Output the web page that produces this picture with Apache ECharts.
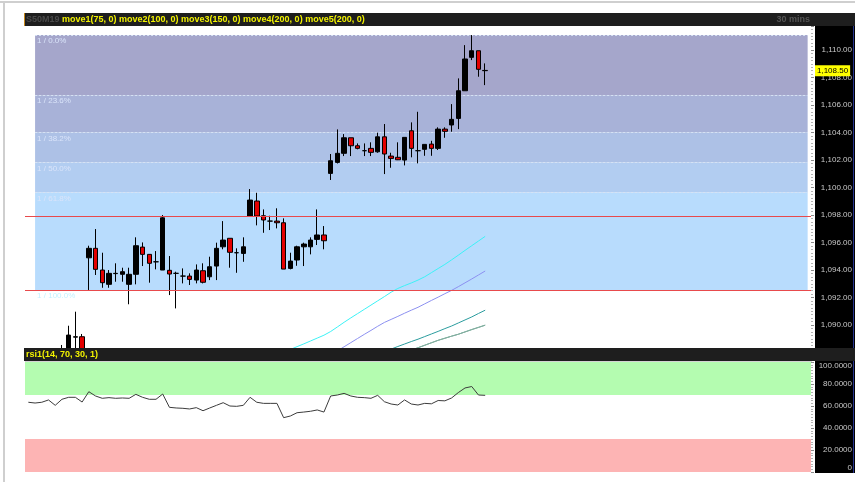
<!DOCTYPE html>
<html>
<head>
<meta charset="utf-8">
<title>S50M19 30 mins</title>
<script src="https://cdn.jsdelivr.net/npm/echarts@6.0.0/dist/echarts.min.js"></script>
<style>
    html, body { margin: 0; padding: 0; background: #fff; }
    #chart { width: 855px; height: 482px; }
</style>
</head>
<body>
<div id="chart"></div>
<script>
// bar slots on the time axis (data only fills the first 69)
const categories = Array.from({ length: 117 }, (_, i) => String(i + 1));

// [open, close, low, high], first bar is slot 5 (slots 0-4 are below the visible range)
const candleStart = 5;
const candles = [
    [1087.6, 1088.1, 1087.5, 1088.55], [1087.9, 1089.27, 1087.6, 1089.95], [1089.12, 1089.15, 1088.0, 1090.97],
    [1089.15, 1088.0, 1087.8, 1089.35], [1094.89, 1095.58, 1092.55, 1095.77], [1095.58, 1094.05, 1093.64, 1096.98],
    [1094.0, 1093.08, 1092.71, 1095.26], [1092.96, 1093.76, 1092.71, 1094.0], [1093.74, 1093.76, 1093.15, 1094.49],
    [1093.69, 1093.88, 1093.15, 1094.17], [1092.96, 1093.69, 1091.51, 1094.17], [1093.69, 1095.77, 1092.96, 1096.38],
    [1095.67, 1095.14, 1094.29, 1096.01], [1095.14, 1094.49, 1093.08, 1095.16], [1094.6, 1094.6, 1094.05, 1095.38],
    [1094.0, 1097.8, 1094.0, 1098.0], [1093.98, 1093.71, 1092.18, 1095.02], [1093.76, 1093.76, 1091.21, 1093.88],
    [1093.56, 1093.56, 1093.03, 1094.12], [1093.56, 1093.32, 1092.91, 1093.76], [1093.27, 1094.0, 1093.03, 1094.41],
    [1093.95, 1093.11, 1093.03, 1094.49], [1093.51, 1094.24, 1093.27, 1094.97], [1094.29, 1095.58, 1093.27, 1095.99],
    [1095.69, 1096.18, 1095.51, 1097.56], [1096.31, 1095.29, 1094.17, 1096.31], [1095.26, 1095.26, 1093.8, 1095.58],
    [1095.21, 1095.69, 1094.6, 1096.38], [1097.93, 1099.09, 1097.93, 1099.89], [1099.02, 1097.93, 1097.25, 1099.62],
    [1097.95, 1097.64, 1096.71, 1098.41], [1097.56, 1097.56, 1096.91, 1097.95], [1097.56, 1097.44, 1097.03, 1098.49],
    [1097.44, 1094.07, 1094.07, 1097.76], [1094.12, 1094.65, 1094.05, 1095.26], [1094.73, 1095.69, 1094.31, 1095.77],
    [1095.69, 1095.89, 1094.29, 1095.99], [1095.69, 1096.18, 1095.14, 1096.38], [1096.23, 1096.55, 1095.82, 1098.41],
    [1096.55, 1096.13, 1095.51, 1097.2], [1101.03, 1101.95, 1100.55, 1102.44], [1101.83, 1102.49, 1101.75, 1104.23],
    [1102.49, 1103.62, 1102.29, 1103.89], [1103.62, 1103.04, 1102.29, 1103.62], [1103.04, 1102.85, 1102.78, 1103.21],
    [1102.68, 1102.68, 1102.29, 1103.21], [1102.85, 1102.56, 1102.29, 1103.29], [1102.6, 1103.69, 1102.53, 1103.99],
    [1103.69, 1102.44, 1100.98, 1104.62], [1102.29, 1102.12, 1101.44, 1102.53], [1102.2, 1102.02, 1102.0, 1103.29],
    [1102.0, 1103.65, 1101.61, 1103.65], [1104.13, 1102.85, 1102.2, 1104.74], [1102.68, 1102.68, 1101.76, 1105.51],
    [1102.78, 1103.14, 1102.31, 1103.14], [1103.16, 1102.85, 1102.31, 1103.4], [1102.85, 1104.25, 1102.73, 1104.38],
    [1104.25, 1104.09, 1103.62, 1104.38], [1104.55, 1104.96, 1104.06, 1106.07], [1105.03, 1107.04, 1104.25, 1107.94],
    [1107.04, 1109.35, 1107.04, 1110.36], [1109.47, 1109.95, 1109.27, 1111.09], [1109.95, 1108.6, 1108.06, 1109.95],
    [1108.52, 1108.5, 1107.45, 1109.03]
];

// moving averages (only the part above the bottom of the pane is readable)
const move1Start = 38;
const move1 = [1088.01, 1088.22, 1088.43, 1088.63, 1088.84, 1089.05, 1089.26, 1089.53, 1089.86, 1090.20,
    1090.52, 1090.83, 1091.14, 1091.45, 1091.76, 1092.07, 1092.39, 1092.66, 1092.87, 1093.06,
    1093.27, 1093.51, 1093.81, 1094.11, 1094.41, 1094.74, 1095.08, 1095.43, 1095.77, 1096.11, 1096.45];
const move2Start = 46;
const move2 = [1088.12, 1088.42, 1088.72, 1089.02, 1089.32, 1089.61, 1089.91, 1090.19, 1090.41, 1090.63,
    1090.86, 1091.08, 1091.29, 1091.54, 1091.79, 1092.03, 1092.28, 1092.52, 1092.79, 1093.07,
    1093.35, 1093.64, 1093.93];
const move3Start = 53;
const move3 = [1088.07, 1088.25, 1088.44, 1088.62, 1088.80, 1088.97, 1089.16, 1089.35, 1089.54, 1089.74,
    1089.93, 1090.15, 1090.37, 1090.59, 1090.84, 1091.08];
const move4Start = 57;
const move4 = [1088.17, 1088.35, 1088.53, 1088.71, 1088.89, 1089.04, 1089.19, 1089.33, 1089.50, 1089.67,
    1089.83, 1089.99];
// move5 has the same period (200) as move4
const move5Start = 57;
const move5 = [1088.17, 1088.35, 1088.53, 1088.71, 1088.89, 1089.04, 1089.19, 1089.33, 1089.50, 1089.67,
    1089.83, 1089.99];

// rsi1(14, 70, 30, 1), one value per bar from slot 0
const rsi1 = [63.4, 62.7, 63.4, 65.5, 60.6, 66.1, 67.9, 67.9, 63.6, 73.0,
    69.1, 67.0, 67.6, 67.0, 67.3, 67.0, 70.6, 67.9, 66.1, 66.1,
    70.9, 58.8, 58.2, 57.9, 57.3, 58.5, 55.7, 58.2, 60.6, 63.0,
    60.0, 59.7, 60.6, 67.9, 63.4, 62.4, 62.4, 62.4, 49.4, 50.9,
    53.9, 54.5, 55.2, 56.4, 54.5, 69.1, 70.0, 71.5, 69.1, 67.9,
    67.6, 67.0, 69.7, 63.9, 61.8, 60.9, 65.5, 61.8, 60.9, 62.4,
    62.0, 65.0, 64.7, 67.3, 72.2, 76.4, 77.7, 70.0, 69.7];

// fibonacci retracement drawing
const fibHigh = 1111.09;
const fibLow = 1092.55;
const fibPct = [0, 23.6, 38.2, 50.0, 61.8, 100.0];
const fibColors = ['#a5a6cb', '#a8b2d8', '#adc1e6', '#b2cdf1', '#b8dcfd'];

// horizontal red lines
const redLines = [1097.93, 1092.55];

// rsi zones
const rsiHigh = 70;
const rsiLow = 30;

const FONT = '"Liberation Sans", Arial, sans-serif';

const pad = (start, vals, empty) => Array(start).fill(empty).concat(vals);

const fmtPrice = (v) => {
    const parts = v.toFixed(2).split('.');
    return parts[0].replace(/\B(?=(\d{3})+(?!\d))/g, ',') + '.' + parts[1];
};

const fibLevel = (p) => fibHigh - (fibHigh - fibLow) * p / 100;

const fibBands = fibColors.map((c, i) => [
    { xAxis: 1, yAxis: fibLevel(fibPct[i]), itemStyle: { color: c } },
    { xAxis: 116, yAxis: fibLevel(fibPct[i + 1]) }
]);

const fibLines = fibPct.map(p => [
    {
        xAxis: 1, yAxis: fibLevel(p),
        label: { formatter: '1 / ' + p.toFixed(1) + '%', color: p === 100 ? '#c4f1ff' : '#dae4fa' }
    },
    { xAxis: 116, yAxis: fibLevel(p) }
]);

const lastClose = candles[candles.length - 1][1];

const chart = echarts.init(document.getElementById('chart'));

const maSeries = (name, start, vals, color, extra) => Object.assign({
    name: name,
    type: 'line',
    xAxisIndex: 0,
    yAxisIndex: 0,
    z: 2,
    silent: true,
    symbol: 'none',
    data: pad(start, vals, '-'),
    lineStyle: { color: color, width: 1 }
}, extra || {});

const option = {
    animation: false,
    backgroundColor: '#ffffff',
    textStyle: { fontFamily: FONT },
    grid: [
        { left: 25, right: 43, top: 26, height: 322 },
        { left: 25, right: 43, top: 362, height: 110 }
    ],
    xAxis: [
        { type: 'category', gridIndex: 0, data: categories, show: false },
        { type: 'category', gridIndex: 1, data: categories, show: false }
    ],
    yAxis: [
        {
            type: 'value',
            gridIndex: 0,
            position: 'right',
            min: 1088.33,
            max: 1111.75,
            minInterval: 2,
            maxInterval: 2,
            splitLine: { show: false },
            axisLine: { show: false },
            axisTick: { show: true, length: 3, lineStyle: { color: '#8c8c8c' } },
            minorTick: { show: true, splitNumber: 8, length: 2, lineStyle: { color: '#b4b4b4' } },
            axisLabel: {
                align: 'right',
                margin: 41,
                color: '#c8c8c8',
                fontSize: 8,
                fontFamily: FONT,
                formatter: (v) => Math.abs(v / 2 - Math.round(v / 2)) > 0.001 ? '' : fmtPrice(v)
            }
        },
        {
            type: 'value',
            gridIndex: 1,
            position: 'right',
            min: 0,
            max: 100,
            interval: 20,
            splitLine: { show: false },
            axisLine: { show: false },
            axisTick: { show: true, length: 3, lineStyle: { color: '#8c8c8c' } },
            minorTick: { show: true, splitNumber: 8, length: 2, lineStyle: { color: '#b4b4b4' } },
            axisLabel: {
                align: 'right',
                margin: 41,
                color: '#c8c8c8',
                fontSize: 8,
                fontFamily: FONT,
                verticalAlignMaxLabel: 'top',
                verticalAlignMinLabel: 'bottom',
                formatter: (v) => v === 0 ? '0' : v.toFixed(4)
            }
        }
    ],
    graphic: [
        { type: 'rect', z: -1, shape: { x: 0, y: 1, width: 855, height: 2 }, style: { fill: '#cfcfcf' } },
        { type: 'rect', z: -1, shape: { x: 3, y: 1, width: 2, height: 481 }, style: { fill: '#cfcfcf' } },
        { type: 'rect', z: -1, shape: { x: 24, y: 13, width: 831, height: 13 }, style: { fill: '#1e1e1e' } },
        { type: 'rect', z: -1, shape: { x: 24, y: 13, width: 1, height: 13 }, style: { fill: '#c8881a' } },
        { type: 'rect', z: -1, shape: { x: 815, y: 26, width: 40, height: 322 }, style: { fill: '#000000' } },
        { type: 'rect', z: -1, shape: { x: 815, y: 361, width: 40, height: 112 }, style: { fill: '#000000' } },
        { type: 'rect', z: -1, shape: { x: 853, y: 26, width: 1, height: 322 }, style: { fill: '#26348f' } },
        { type: 'rect', z: -1, shape: { x: 853, y: 361, width: 1, height: 112 }, style: { fill: '#26348f' } },
        // rsi pane header sits above the price pane's lowest bars
        { type: 'rect', z: 20, shape: { x: 24, y: 348, width: 831, height: 13 }, style: { fill: '#1e1e1e' } },
        { type: 'rect', z: 20, shape: { x: 25, y: 361, width: 787, height: 1 }, style: { fill: '#d4d4d4' } },
        {
            type: 'text', z: 21, x: 26, y: 355,
            style: { text: 'rsi1(14, 70, 30, 1)', fill: '#f2f200', font: 'bold 9px ' + FONT, verticalAlign: 'middle' }
        },
        {
            type: 'text', x: 26, y: 20,
            style: { text: 'S50M19', fill: '#4a4a4a', font: 'bold 9px ' + FONT, verticalAlign: 'middle' }
        },
        {
            type: 'text', x: 62, y: 20,
            style: {
                text: 'move1(75, 0) move2(100, 0) move3(150, 0) move4(200, 0) move5(200, 0)',
                fill: '#f2f200', font: 'bold 9px ' + FONT, verticalAlign: 'middle'
            }
        },
        {
            type: 'text', x: 810, y: 20,
            style: { text: '30 mins', fill: '#555555', font: 'bold 9px ' + FONT, align: 'right', verticalAlign: 'middle' }
        }
    ],
    series: [
        // the fibonacci drawing hangs on the first MA series
        maSeries('move1', move1Start, move1, '#3cf2f6', {
            markArea: { silent: true, z: 1, data: fibBands },
            markLine: {
                silent: true,
                z: 1.2,
                symbol: ['none', 'none'],
                lineStyle: { color: '#d6e2f4', width: 1, type: [2, 2] },
                label: { position: 'insideStartBottom', distance: 2, fontSize: 8, fontFamily: FONT },
                data: fibLines
            }
        }),
        maSeries('move2', move2Start, move2, '#8c90f0'),
        maSeries('move3', move3Start, move3, '#2a9c9e'),
        maSeries('move4', move4Start, move4, '#5a9a8a'),
        maSeries('move5', move5Start, move5, '#86b0a0'),
        {
            name: 'S50M19',
            type: 'candlestick',
            xAxisIndex: 0,
            yAxisIndex: 0,
            z: 3,
            barWidth: 5,
            data: pad(candleStart, candles, ['-', '-', '-', '-']),
            itemStyle: {
                color: '#000000',
                color0: '#e40000',
                borderColor: '#000000',
                borderColor0: '#000000',
                borderWidth: 1
            },
            markLine: {
                silent: true,
                symbol: ['none', 'none'],
                data: redLines.map(v => ({
                    yAxis: v,
                    lineStyle: { color: '#e84a4c', width: 1, type: 'solid' },
                    label: { show: false }
                })).concat([{
                    yAxis: lastClose,
                    lineStyle: { color: 'rgba(0,0,0,0)', width: 0 },
                    label: {
                        show: true,
                        position: 'end',
                        distance: 4,
                        formatter: fmtPrice(lastClose),
                        backgroundColor: '#ffff00',
                        color: '#000000',
                        fontSize: 8,
                        fontFamily: FONT,
                        padding: [2, 2, 1, 2]
                    }
                }])
            }
        },
        {
            name: 'rsi1',
            type: 'line',
            xAxisIndex: 1,
            yAxisIndex: 1,
            symbol: 'none',
            silent: true,
            data: rsi1,
            lineStyle: { color: '#3c3c3c', width: 1 },
            markArea: {
                silent: true,
                data: [
                    [{ yAxis: rsiHigh, itemStyle: { color: '#b4fcb0' } }, { yAxis: 100 }],
                    [{ yAxis: 0, itemStyle: { color: '#fdb4b4' } }, { yAxis: rsiLow }]
                ]
            }
        }
    ]
};

chart.setOption(option);
window.addEventListener('resize', () => chart.resize());
</script>
</body>
</html>
